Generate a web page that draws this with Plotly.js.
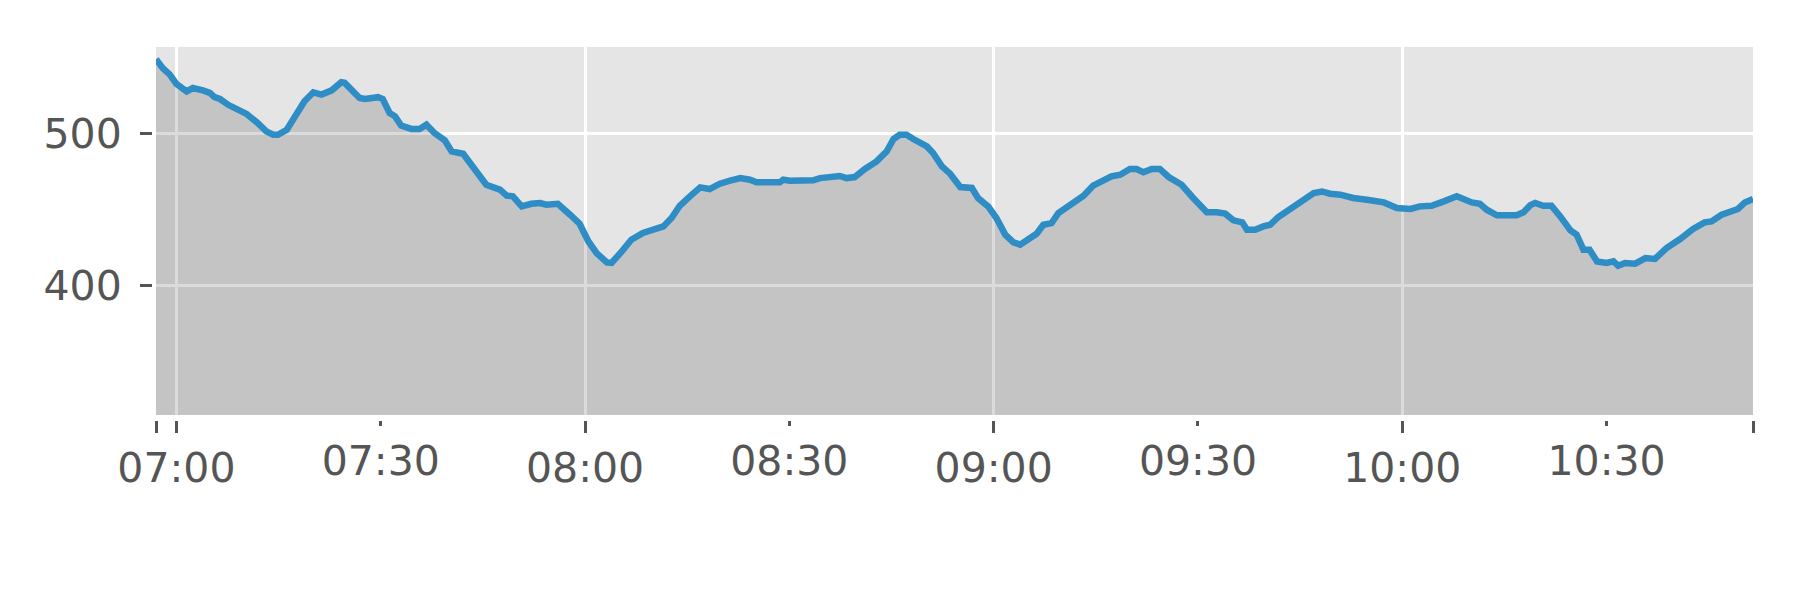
<!DOCTYPE html>
<html>
<head>
<meta charset="utf-8">
<script src="https://cdn.plot.ly/plotly-3.0.1.min.js"></script>
<style>html,body{margin:0;padding:0;background:#fff}#chart{width:1800px;height:600px}</style>
</head>
<body>
<div id="chart"></div>
<script>
const day = "2024-01-01 ";
const times = ["06:57:00","06:58:00","06:59:00","07:00:00","07:01:30","07:02:24","07:03:54","07:04:54","07:05:36","07:06:24","07:07:36","07:09:18","07:10:18","07:11:48","07:13:12","07:14:12","07:14:54","07:16:12","07:17:36","07:18:48","07:20:06","07:21:18","07:22:48","07:24:12","07:24:42","07:26:54","07:27:42","07:29:36","07:30:18","07:31:18","07:32:06","07:33:00","07:34:30","07:35:42","07:36:42","07:37:54","07:39:24","07:40:24","07:42:06","07:43:18","07:44:18","07:45:30","07:47:30","07:48:30","07:49:24","07:50:42","07:52:06","07:53:24","07:54:18","07:56:00","07:57:48","07:59:12","08:00:30","08:01:42","08:03:12","08:03:54","08:05:24","08:06:48","08:08:30","08:10:30","08:11:30","08:12:42","08:13:54","08:15:24","08:16:54","08:18:18","08:19:48","08:21:18","08:22:48","08:24:12","08:25:12","08:28:36","08:29:06","08:30:06","08:33:30","08:34:30","08:36:00","08:37:24","08:38:24","08:39:36","08:41:06","08:42:48","08:44:18","08:45:18","08:46:12","08:47:12","08:48:12","08:50:12","08:51:06","08:52:24","08:53:36","08:55:06","08:56:48","08:57:42","08:59:12","09:00:24","09:01:42","09:02:54","09:03:54","09:05:06","09:06:18","09:07:18","09:08:30","09:09:30","09:11:12","09:13:12","09:14:36","09:16:06","09:17:18","09:18:36","09:20:00","09:21:00","09:22:00","09:23:12","09:24:24","09:25:42","09:27:36","09:29:18","09:31:18","09:32:48","09:34:00","09:35:12","09:36:30","09:37:12","09:38:24","09:39:36","09:40:36","09:41:48","09:43:30","09:45:00","09:47:00","09:48:12","09:49:24","09:50:54","09:52:48","09:54:48","09:57:18","09:59:12","10:01:12","10:02:36","10:04:18","10:06:06","10:08:00","10:10:12","10:11:24","10:12:24","10:13:54","10:16:48","10:17:48","10:18:48","10:19:30","10:20:42","10:21:54","10:23:12","10:24:42","10:25:36","10:26:36","10:27:30","10:28:36","10:30:00","10:31:00","10:31:42","10:32:42","10:34:12","10:35:42","10:37:06","10:38:48","10:40:48","10:42:42","10:44:24","10:45:24","10:46:54","10:48:24","10:49:18","10:50:18","10:51:30"];
const values = [549,543,539,532.7,527.8,530,528.5,526.8,524,522.8,519,515.8,513,507.5,501.5,499.3,499.3,502.6,512.5,521.3,527.2,525.7,528.5,533.8,533.4,523.5,522.8,524,522.8,513.6,511.4,505.3,503.1,503.1,505.9,500.4,495.6,488.4,486.8,479.6,471.9,466.4,463.2,459.2,458.8,452.2,453.9,454.4,453.3,453.9,446.7,440.8,429.1,421.5,415.3,415,422.6,430.3,434.7,437.3,439,444.5,452.6,458.8,464.7,463.6,467.1,469.1,470.8,469.7,468,468,469.7,469.1,469.3,470.8,471.9,472.2,470.8,471.5,476.8,481.8,488.4,496.5,499.3,499.3,496.5,491.6,487.3,478.5,473.7,464.9,464.3,457.7,452.2,444.5,433.6,428.5,427,430.3,434.2,440.1,441.2,447.8,452.5,459.2,465.8,469.7,471.9,473,476.8,476.8,474.6,476.8,476.8,471.5,466.4,457.7,448.3,448.3,447.4,443,441.7,436.8,436.8,439,440.1,445.2,450.5,454.7,461,462,460.5,459.9,457.7,456.6,454.8,451.1,450.5,452.2,452.6,455.5,458.8,454.8,453.9,450,446.3,446.3,448.3,453,454.4,452.6,452.6,445.6,436.4,433.6,423.7,423.7,416,415,416,413.2,415,414.5,418.2,417.6,424.8,430.7,437.3,441.7,442.3,446.7,448.9,450.5,454.8,457];
const xRange = ["06:57:00", "10:51:30"];
const yRange = [315, 557];
const yTicks = [400, 500];
const hourTicks = ["07:00", "08:00", "09:00", "10:00"];
const halfTicks = ["07:30", "08:30", "09:30", "10:30"];

const d = t => day + t;
const W = 1800, H = 600;
const mL = 152, mR = 47, mT = 47, mB = 180;
const pw = W - mL - mR, ph = H - mT - mB;
const font = {family: "DejaVu Sans", size: 41, color: "#555555"};

const majorVals = [d(xRange[0])].concat(hourTicks.map(d), [d(xRange[1])]);
const majorText = [""].concat(hourTicks, [""]);

const data = [
  {x: times.map(d), y: values, type: "scatter", mode: "lines", fill: "tozeroy",
   fillcolor: "rgba(0,0,0,0.14)", line: {color: "#2E8DC4", width: 6.5}, hoverinfo: "skip"},
  {x: [], y: [], xaxis: "x2", type: "scatter", mode: "lines", showlegend: false}
];

const layout = {
  width: W, height: H,
  margin: {l: mL, r: mR, t: mT, b: mB, pad: 0},
  paper_bgcolor: "#ffffff", plot_bgcolor: "#E5E5E5",
  showlegend: false,
  font: font,
  xaxis: {
    type: "date", range: xRange.map(d), domain: [4 / pw, 1],
    anchor: "free", position: 0,
    tickmode: "array", tickvals: majorVals, ticktext: majorText,
    ticks: "outside", ticklen: 12, tickwidth: 3, tickcolor: "#555555",
    showgrid: false, zeroline: false, showline: false,
    tickfont: font, ticklabelstandoff: 0,
    minor: {tickmode: "array", tickvals: hourTicks.map(d), showgrid: true, gridcolor: "#ffffff", gridwidth: 3, ticks: ""}
  },
  xaxis2: {
    type: "date", range: xRange.map(d), overlaying: "x", domain: [4 / pw, 1],
    anchor: "free", position: 0, side: "bottom",
    tickmode: "array", tickvals: halfTicks.map(d), ticktext: halfTicks,
    ticks: "outside", ticklen: 5, tickwidth: 3, tickcolor: "#555555",
    showgrid: false, zeroline: false, showline: false,
    tickfont: font, ticklabelstandoff: 0
  },
  yaxis: {
    range: yRange, domain: [5 / ph, 1],
    anchor: "free", position: 0,
    tickmode: "array", tickvals: yTicks, ticktext: yTicks.map(String),
    ticks: "outside", ticklen: 12, tickwidth: 3, tickcolor: "#555555",
    showgrid: true, gridcolor: "#ffffff", gridwidth: 3,
    zeroline: false, showline: false, tickfont: font, ticklabelstandoff: 10
  }
};

Plotly.newPlot("chart", data, layout, {displayModeBar: false, staticPlot: true});
</script>
</body>
</html>
